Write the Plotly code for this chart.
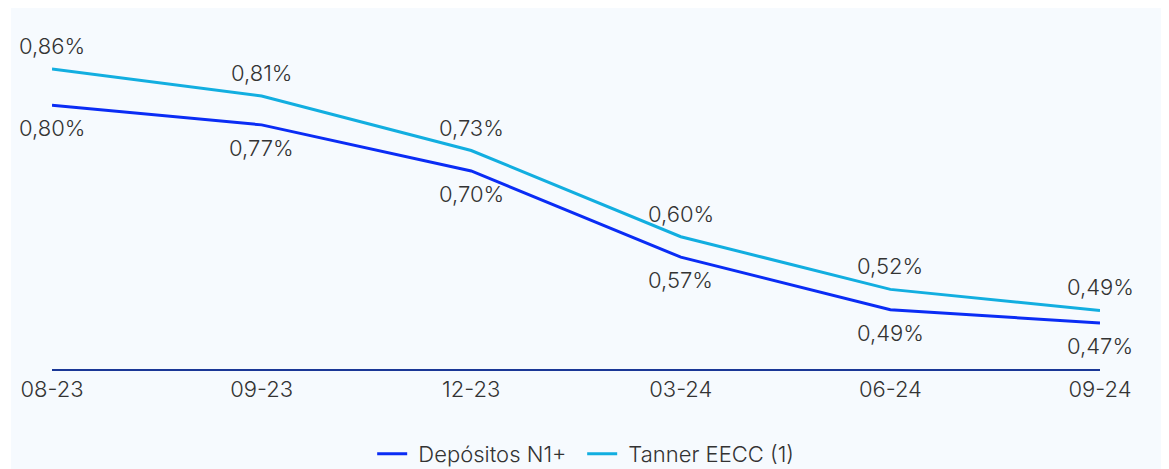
import plotly.graph_objects as go

categories = ["08-23", "09-23", "12-23", "03-24", "06-24", "09-24"]
depositos = [0.801, 0.771, 0.701, 0.570, 0.490, 0.470]
tanner = [0.856, 0.815, 0.732, 0.601, 0.521, 0.489]
depositos_labels = ["0,80%", "0,77%", "0,70%", "0,57%", "0,49%", "0,47%"]
tanner_labels = ["0,86%", "0,81%", "0,73%", "0,60%", "0,52%", "0,49%"]
series_names = ["Depósitos N1+", "Tanner EECC (1)"]

FONT = "Inter"
WEIGHT = 300
SIZE = 22
TXT = "#333333"
BLUE = "#0a2cf5"
CYAN = "#12aee0"

fig = go.Figure()
fig.add_trace(go.Scatter(x=categories, y=depositos, mode="lines", name="\u00a0" + series_names[0],
                         line=dict(color=BLUE, width=3), cliponaxis=False))
fig.add_trace(go.Scatter(x=categories, y=tanner, mode="lines", name="\u00a0" + series_names[1],
                         line=dict(color=CYAN, width=3), cliponaxis=False))

for c, v, t in zip(categories, tanner, tanner_labels):
    fig.add_annotation(x=c, y=v, text=t, showarrow=False, yshift=23,
                       font=dict(family=FONT, size=SIZE, color=TXT, weight=WEIGHT))
for c, v, t in zip(categories, depositos, depositos_labels):
    fig.add_annotation(x=c, y=v, text=t, showarrow=False, yshift=-23,
                       font=dict(family=FONT, size=SIZE, color=TXT, weight=WEIGHT))

fig.add_shape(type="rect", xref="paper", yref="paper", x0=-0.0391, x1=1.2, y0=-0.5, y1=1.3,
              fillcolor="#F6FAFE", line=dict(width=0), layer="below")

fig.update_layout(
    width=1161, height=461,
    margin=dict(l=44, r=69, t=32, b=100, autoexpand=False),
    paper_bgcolor="white",
    plot_bgcolor="rgba(0,0,0,0)",
    font=dict(family=FONT, size=SIZE, color=TXT, weight=WEIGHT),
    showlegend=True,
    legend=dict(orientation="h", x=0.5059, xanchor="center", y=-0.258, yanchor="middle",
                entrywidth=165, entrywidthmode="pixels",
                font=dict(family=FONT, size=SIZE, color=TXT, weight=WEIGHT),
                bgcolor="rgba(0,0,0,0)"),
    xaxis=dict(type="category", range=[0, 5], showgrid=False, zeroline=False, automargin=False,
               showline=True, linecolor="#1a3796", linewidth=1.5, ticks="",
               tickfont=dict(family=FONT, size=SIZE, color=TXT, weight=WEIGHT)),
    yaxis=dict(range=[0.4, 0.9], visible=False, showgrid=False, zeroline=False, automargin=False),
)

fig.write_html("out.html")
